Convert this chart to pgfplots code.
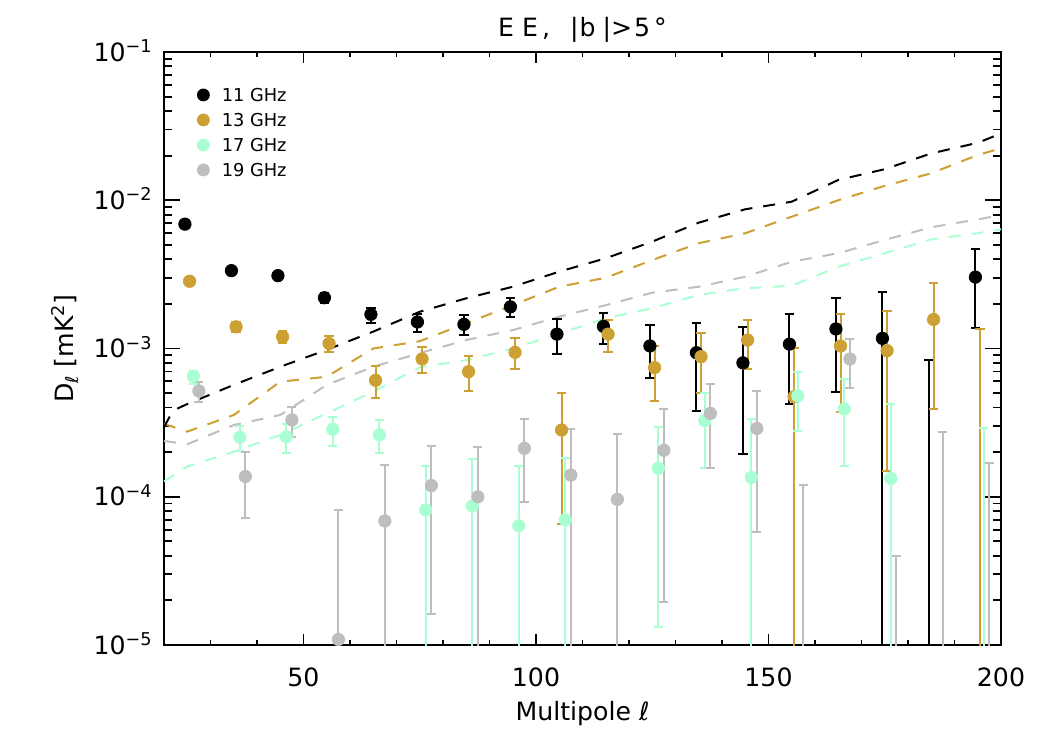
\documentclass[border=0pt]{standalone}
\usepackage{fontspec}
\setmainfont{DejaVu Sans}
\usepackage{pgfplots}
\pgfplotsset{compat=1.18}
\usepackage{pgfplotstable}
\definecolor{cgold}{RGB}{204,160,51}
\definecolor{cmint}{RGB}{170,255,210}
\definecolor{cgray}{RGB}{190,190,190}

\pgfplotstableread{
x y lo hi
24.5 6.9e-3 6.7e-3 7.1e-3
34.5 3.35e-3 3.22e-3 3.48e-3
44.5 3.10e-3 2.97e-3 3.23e-3
54.5 2.20e-3 2.02e-3 2.38e-3
64.5 1.70e-3 1.49e-3 1.88e-3
74.5 1.51e-3 1.30e-3 1.72e-3
84.5 1.455e-3 1.24e-3 1.68e-3
94.5 1.91e-3 1.64e-3 2.20e-3
104.5 1.25e-3 0.92e-3 1.57e-3
114.5 1.41e-3 1.07e-3 1.73e-3
124.5 1.04e-3 6.36e-4 1.43e-3
134.5 9.37e-4 3.77e-4 1.49e-3
144.5 8.0e-4 1.95e-4 1.40e-3
154.5 1.07e-3 4.22e-4 1.70e-3
164.5 1.355e-3 5.1e-4 2.2e-3
174.5 1.17e-3 1e-7 2.39e-3
184.5 1e-7 1e-8 8.35e-4
194.5 3.03e-3 1.37e-3 4.69e-3
}\dA

\pgfplotstableread{
x y lo hi
25.5 2.84e-3 2.75e-3 2.93e-3
35.5 1.40e-3 1.29e-3 1.51e-3
45.5 1.20e-3 1.09e-3 1.31e-3
55.5 1.08e-3 0.95e-3 1.21e-3
65.5 6.1e-4 4.66e-4 7.6e-4
75.5 8.5e-4 6.8e-4 1.02e-3
85.5 6.98e-4 5.17e-4 8.87e-4
95.5 9.42e-4 7.28e-4 1.17e-3
105.5 2.82e-4 6.55e-5 5.03e-4
115.5 1.25e-3 0.95e-3 1.56e-3
125.5 7.43e-4 4.44e-4 1.045e-3
135.5 8.81e-4 4.99e-4 1.28e-3
145.5 1.14e-3 7.28e-4 1.56e-3
155.5 4.73e-4 1e-7 1.0e-3
165.5 1.04e-3 3.75e-4 1.71e-3
175.5 9.67e-4 1.5e-4 1.79e-3
185.5 1.57e-3 3.93e-4 2.75e-3
195.5 1e-7 1e-8 1.355e-3
}\dB

\pgfplotstableread{
x y lo hi
26.3 6.5e-4 5.8e-4 7.1e-4
36.3 2.52e-4 2.05e-4 3.0e-4
46.3 2.54e-4 1.98e-4 3.08e-4
56.3 2.85e-4 2.21e-4 3.43e-4
66.3 2.62e-4 1.98e-4 3.28e-4
76.3 8.15e-5 1e-7 1.6e-4
86.3 8.67e-5 1e-7 1.79e-4
96.3 6.38e-5 1e-7 1.61e-4
106.3 6.97e-5 1e-7 1.82e-4
126.3 1.556e-4 1.33e-5 2.97e-4
136.3 3.26e-4 1.556e-4 4.99e-4
146.3 1.35e-4 1e-7 3.33e-4
156.3 4.8e-4 2.78e-4 6.9e-4
166.3 3.91e-4 1.62e-4 6.23e-4
176.3 1.33e-4 1e-7 4.2e-4
196.3 1e-7 1e-8 2.9e-4
}\dC

\pgfplotstableread{
x y lo hi
27.5 5.17e-4 4.34e-4 5.97e-4
37.5 1.37e-4 7.2e-5 2.0e-4
47.5 3.30e-4 2.54e-4 4.0e-4
57.5 1.09e-5 1e-7 8.15e-5
67.5 6.87e-5 1e-7 1.64e-4
77.5 1.19e-4 1.61e-5 2.21e-4
87.5 1.0e-4 1e-7 2.18e-4
97.5 2.12e-4 9.25e-5 3.33e-4
107.5 1.40e-4 1e-7 2.85e-4
117.5 9.6e-5 1e-7 2.64e-4
127.5 2.06e-4 1.96e-5 3.91e-4
137.5 3.65e-4 1.556e-4 5.75e-4
147.5 2.89e-4 5.8e-5 5.2e-4
157.5 1e-7 1e-8 1.2e-4
167.5 8.5e-4 5.45e-4 1.15e-3
177.5 1e-7 1e-8 4.0e-5
187.5 1e-7 1e-8 2.72e-4
197.5 1e-7 1e-8 1.68e-4
}\dD

\pgfplotstableread{
x y
20 2.95e-4
21.5 3.6e-4
23 3.95e-4
25 4.22e-4
35 5.68e-4
45 7.53e-4
55 9.8e-4
65 1.30e-3
75 1.77e-3
85 2.18e-3
95 2.61e-3
105 3.30e-3
115 4.06e-3
125 5.26e-3
135 7.06e-3
145 8.69e-3
155 9.78e-3
165 1.37e-2
175 1.62e-2
185 2.07e-2
195 2.44e-2
200 2.82e-2
}\nA

\pgfplotstableread{
x y
20 3.1e-4
25 2.75e-4
35 3.56e-4
45 5.97e-4
55 6.45e-4
65 1.0e-3
75 1.12e-3
85 1.48e-3
95 1.96e-3
105 2.61e-3
115 3.0e-3
125 3.95e-3
135 5.13e-3
145 5.99e-3
155 7.75e-3
165 1.0e-2
175 1.25e-2
185 1.52e-2
195 2.02e-2
200 2.24e-2
}\nB

\pgfplotstableread{
x y
20 1.27e-4
25 1.6e-4
35 2.01e-4
45 2.61e-4
55 3.65e-4
65 5.12e-4
75 7.46e-4
85 8.35e-4
95 1.0e-3
105 1.26e-3
115 1.6e-3
125 1.87e-3
135 2.3e-3
145 2.55e-3
155 2.65e-3
165 3.56e-3
175 4.39e-3
185 5.45e-3
195 5.99e-3
200 6.37e-3
}\nC

\pgfplotstableread{
x y
20 2.38e-4
25 2.26e-4
35 3.05e-4
45 3.56e-4
55 5.68e-4
65 7.53e-4
75 9.3e-4
85 1.14e-3
95 1.33e-3
105 1.64e-3
115 1.96e-3
125 2.38e-3
135 2.61e-3
145 3.05e-3
155 3.85e-3
165 4.39e-3
175 5.4e-3
185 6.57e-3
195 7.43e-3
200 7.94e-3
}\nD

\pgfplotsset{
  pts/.style={only marks, mark=*, mark size=3.1bp, forget plot,
    error bars/y dir=both, error bars/y explicit,
    error bars/error bar style={line width=1bp},
    error bars/error mark options={rotate=90, mark size=2.3bp, line width=1bp}},
  nl/.style={line width=1bp, dash pattern=on 6bp off 5.5bp, forget plot, no marks},
}

\begin{document}
\fontsize{12.6bp}{15bp}\selectfont
\begin{tikzpicture}
\path[use as bounding box] (-82bp,-52.5bp) rectangle (443bp,322.5bp);
\begin{axis}[
  at={(0,0)}, anchor=south west,
  scale only axis, width=418.5bp, height=296.5bp,
  xmin=20, xmax=200, ymode=log, ymin=1e-5, ymax=1e-1,
  axis line style={line width=1bp},
  tick style={line width=0.9bp, black},
  major tick length=8bp, minor tick length=4bp,
  xtick style={/pgfplots/major tick length=5.5bp, /pgfplots/minor tick length=2.3bp},
  tick align=inside,
  xtick={50,100,150,200}, xticklabels={50,100,150,200},
  minor xtick={30,40,60,70,80,90,110,120,130,140,160,170,180,190},
  ytick={1e-5,1e-4,1e-3,1e-2,1e-1},
  yticklabels={10\textsuperscript{−5},10\textsuperscript{−4},10\textsuperscript{−3},10\textsuperscript{−2},10\textsuperscript{−1}},
  minor ytick={2e-5,3e-5,4e-5,5e-5,6e-5,7e-5,8e-5,9e-5,
    2e-4,3e-4,4e-4,5e-4,6e-4,7e-4,8e-4,9e-4,
    2e-3,3e-3,4e-3,5e-3,6e-3,7e-3,8e-3,9e-3,
    2e-2,3e-2,4e-2,5e-2,6e-2,7e-2,8e-2,9e-2},
  xticklabel style={anchor=base, yshift=-20.5bp, inner sep=0pt},
  yticklabel style={anchor=base east, yshift=-4.6bp, xshift=-5.5bp, inner sep=0pt},
  title={E\kern4bp E\kern2bp,\kern10bp|\kern0.5bp b\kern3.5bp|>\kern1bp 5\kern2bp°},
  title style={at={(axis description cs:0.5,1.0344)}, anchor=base, inner sep=0pt, yshift=-6pt, yshift=-2.3bp,
    font=\fontsize{12.6bp}{15bp}\selectfont},
  xlabel={Multipole ℓ},
  xlabel style={at={(axis description cs:0.5,-0.1265)}, anchor=base, inner sep=0pt},
  ylabel={D\textsubscript{ℓ} [mK\textsuperscript{2}]},
  ylabel style={at={(axis description cs:-0.1183,0.5)}, anchor=center, inner sep=0pt},
  legend style={draw=none, fill=none, inner sep=0pt, outer sep=0pt,
    at={(axis description cs:0.0394,0.9385)}, anchor=north west,
    font=\fontsize{8.9bp}{10bp}\selectfont, row sep=6bp,
    nodes={inner sep=0pt, text height=6.5bp, text depth=0bp}},
  legend cell align=left,
  legend image code/.code={\draw[#1] plot coordinates {(0bp,0bp)}; \path (-3bp,0bp) (9bp,0bp);},
]
\addlegendimage{only marks, mark=*, mark size=3bp, color=black}
\addlegendentry{11 GHz}
\addlegendimage{only marks, mark=*, mark size=3bp, color=cgold}
\addlegendentry{13 GHz}
\addlegendimage{only marks, mark=*, mark size=3bp, color=cmint}
\addlegendentry{17 GHz}
\addlegendimage{only marks, mark=*, mark size=3bp, color=cgray}
\addlegendentry{19 GHz}

\addplot[nl, color=cmint] table[x=x,y=y] {\nC};
\addplot[nl, color=cgray] table[x=x,y=y] {\nD};
\addplot[nl, color=cgold] table[x=x,y=y] {\nB};
\addplot[nl, color=black] table[x=x,y=y] {\nA};

\addplot[pts, color=black] table[x=x, y=y, y error plus expr=\thisrow{hi}-\thisrow{y}, y error minus expr=\thisrow{y}-\thisrow{lo}] {\dA};
\addplot[pts, color=cgold] table[x=x, y=y, y error plus expr=\thisrow{hi}-\thisrow{y}, y error minus expr=\thisrow{y}-\thisrow{lo}] {\dB};
\addplot[pts, color=cmint] table[x=x, y=y, y error plus expr=\thisrow{hi}-\thisrow{y}, y error minus expr=\thisrow{y}-\thisrow{lo}] {\dC};
\addplot[pts, color=cgray] table[x=x, y=y, y error plus expr=\thisrow{hi}-\thisrow{y}, y error minus expr=\thisrow{y}-\thisrow{lo}] {\dD};
\end{axis}
\end{tikzpicture}
\end{document}
